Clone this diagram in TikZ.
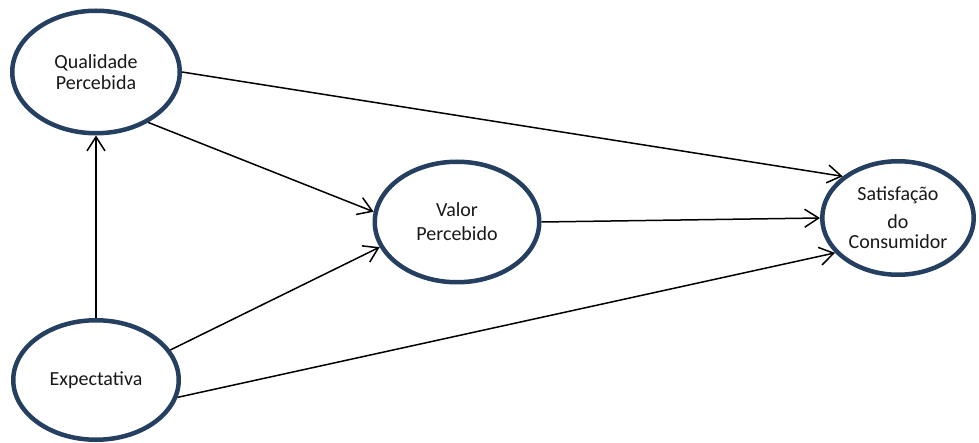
\documentclass[tikz,border=0pt]{standalone}
\usepackage{fontspec}
\setmainfont{Carlito}
\usetikzlibrary{arrows.meta,shapes.geometric}
\definecolor{elline}{RGB}{36,63,96}
\begin{document}
\begin{tikzpicture}[x=1pt,y=-1pt,
  var/.style={ellipse, draw=elline, line width=4.5pt, fill=white, inner sep=0pt,
    align=center, text=black!90},
  conn/.style={line width=1.5pt, black, -{Straight Barb[length=14pt,width=18pt]}}]
\useasboundingbox (0,0) rectangle (979,443);
\node[var, minimum width=167.5pt, minimum height=122.5pt,
  font=\fontsize{20}{21}\selectfont] (q) at (96,72) {Qualidade\\Percebida};
\node[var, minimum width=165.5pt, minimum height=119.5pt,
  font=\fontsize{20}{21}\selectfont] (e) at (96,380) {Expectativa};
\node[var, minimum width=164.5pt, minimum height=120.5pt,
  font=\fontsize{20}{24}\selectfont] (v) at (457,222) {Valor\\Percebido};
\node[var, minimum width=151.5pt, minimum height=113.5pt,
  font=\fontsize{20}{20}\selectfont] (s) at (898,218) {Satisfação\\[8pt]do\\Consumidor};
\draw[conn] (e.north) -- (q.south);
\draw[conn] (q.east) -- (s.143.6);
\draw[conn] (q.-44.4) -- (v.173.7);
\draw[conn] (e.22.8) -- (v.198.7);
\draw[conn] (v.east) -- (s.west);
\draw[conn] (e.-12.4) -- (s.209.7);
\end{tikzpicture}
\end{document}
